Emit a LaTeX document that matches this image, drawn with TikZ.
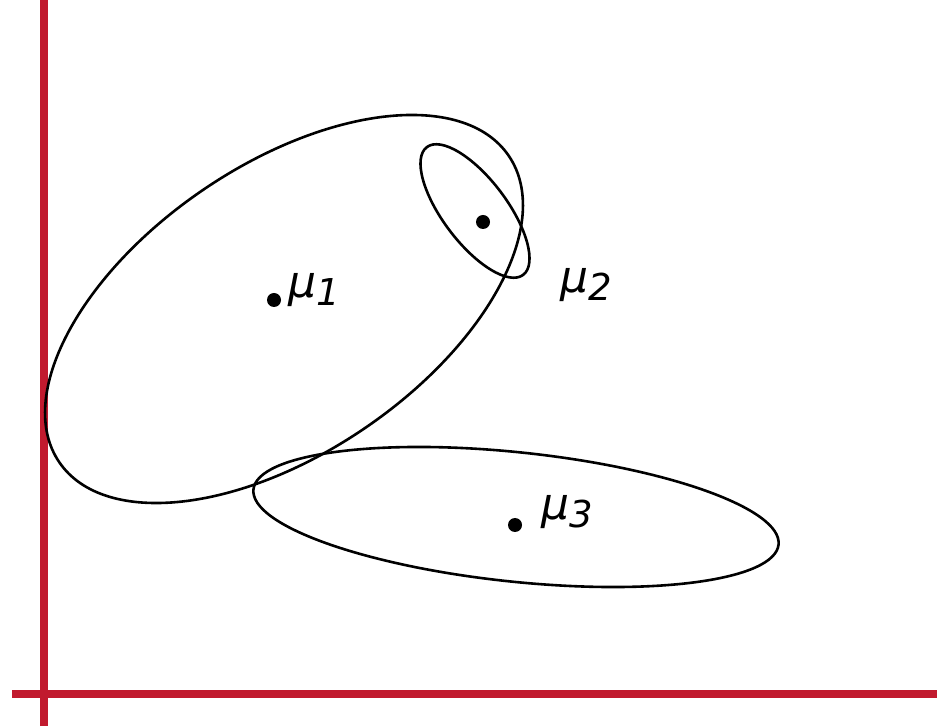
\documentclass[tikz,border=0pt]{standalone}
\usepackage{fontspec}
\setmainfont{DejaVu Sans}
\usepackage{tikz}
\definecolor{axisred}{RGB}{193,26,46}
\newcommand{\mulabel}[1]{\fontsize{44}{48}\selectfont\itshape μ\raisebox{-8pt}{\fontsize{37}{40}\selectfont #1}}

\begin{document}
\begin{tikzpicture}[x=1pt, y=1pt, line cap=round, line join=round]
\useasboundingbox (0,0) rectangle (937,726);

% axes
\draw[axisred, line width=8pt, line cap=butt] (44,0)--(44,726);
\draw[axisred, line width=8pt, line cap=butt] (12,32)--(937,32);

% clusters
\coordinate (e1) at (284,417);
\coordinate (e2) at (475,515);
\coordinate (e3) at (516,209);
\draw[line width=2.6pt] (e1) ellipse[x radius=272, y radius=144, rotate=34.3];
\draw[line width=2.6pt] (e2) ellipse[x radius=80, y radius=32, rotate=-53];
\draw[line width=2.6pt] (e3) ellipse[x radius=264, y radius=64.7, rotate=-6];

% means
\fill (274,426) circle (7pt);
\fill (483,504) circle (7pt);
\fill (515,201) circle (7pt);
\node[anchor=base west, inner sep=0pt] at (288,428) {\mulabel{1}};
\node[anchor=base west, inner sep=0pt] at (560,433) {\mulabel{2}};
\node[anchor=base west, inner sep=0pt] at (541,206) {\mulabel{3}};
\end{tikzpicture}
\end{document}
